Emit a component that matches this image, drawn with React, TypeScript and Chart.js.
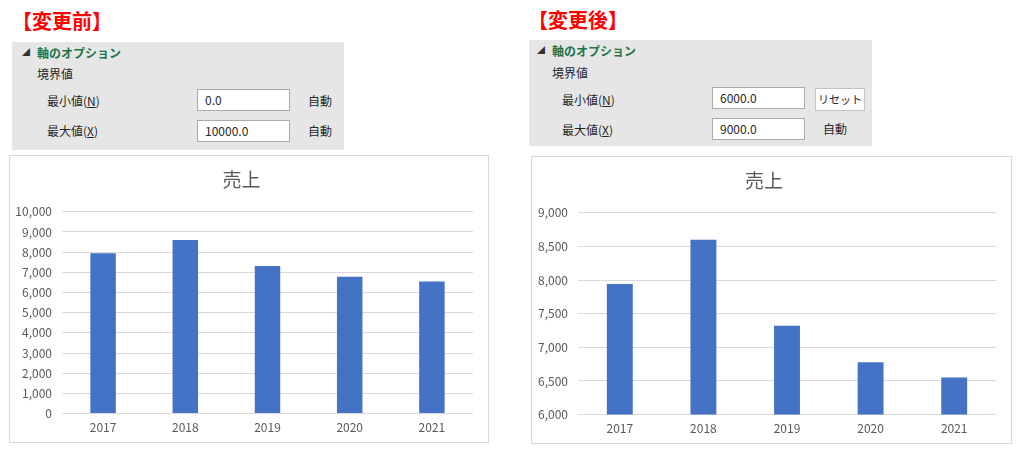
import React, { useEffect, useRef } from 'react';
import Chart from 'chart.js/auto';

const years = ['2017', '2018', '2019', '2020', '2021'];
const sales = [7940, 8600, 7320, 6780, 6550];

const beforeMin = 0;
const beforeMax = 10000;
const beforeStep = 1000;
const afterMin = 6000;
const afterMax = 9000;
const afterStep = 500;

const FONT = '"Noto Sans CJK JP", "Noto Sans", sans-serif';
const TEXT = '#595959';

interface SalesChartProps {
  min: number;
  max: number;
  step: number;
  axisWidth: number;
}

const SalesChart: React.FC<SalesChartProps> = ({ min, max, step, axisWidth }) => {
  const chartRef = useRef<HTMLCanvasElement | null>(null);

  useEffect(() => {
    if (!chartRef.current) return;
    const chart = new Chart(chartRef.current, {
      type: 'bar',
      data: {
        labels: years,
        datasets: [
          {
            label: '売上',
            data: sales,
            backgroundColor: '#4472c4',
            categoryPercentage: 1,
            barPercentage: 0.31,
          },
        ],
      },
      options: {
        animation: false,
        responsive: true,
        maintainAspectRatio: false,
        layout: { padding: { left: 0, right: 15, top: 0, bottom: 0 } },
        plugins: {
          legend: { display: false },
          tooltip: { enabled: false },
          title: {
            display: true,
            text: '売上',
            color: TEXT,
            font: { size: 19, family: FONT, weight: 'normal' },
            padding: { top: 12, bottom: 21 },
          },
        },
        scales: {
          x: {
            grid: { display: false, drawTicks: false },
            border: { display: false },
            ticks: { color: TEXT, font: { size: 12, family: FONT }, padding: 7 },
          },
          y: {
            min,
            max,
            grid: { color: '#d9d9d9', drawTicks: false },
            border: { display: false },
            ticks: {
              stepSize: step,
              color: TEXT,
              font: { size: 12, family: FONT },
              padding: 10,
              callback: (v: any) => Number(v).toLocaleString('en-US'),
            },
            afterFit: (scale: any) => {
              scale.width = axisWidth;
            },
          },
        },
      } as any,
    });
    return () => chart.destroy();
  }, [min, max, step, axisWidth]);

  return <canvas ref={chartRef} />;
};

const abs = (left: number, top: number, extra: React.CSSProperties = {}): React.CSSProperties => ({
  position: 'absolute',
  left,
  top,
  ...extra,
});

const label = (text: string, left: number, top: number, extra: React.CSSProperties = {}) => (
  <div style={abs(left, top, { fontSize: 12, color: '#262626', whiteSpace: 'nowrap', lineHeight: '16px', ...extra })}>
    {text}
  </div>
);

const Keyed: React.FC<{ base: string; k: string; left: number; top: number }> = ({ base, k, left, top }) => (
  <div style={abs(left, top, { fontSize: 12, color: '#262626', whiteSpace: 'nowrap', lineHeight: '16px' })}>
    {base}(<span style={{ textDecoration: 'underline' }}>{k}</span>)
  </div>
);

const Input: React.FC<{ value: string; left: number; top: number }> = ({ value, left, top }) => (
  <div
    style={abs(left, top, {
      width: 93,
      height: 22,
      boxSizing: 'border-box',
      background: '#fff',
      border: '1px solid #ababab',
      fontSize: 12,
      lineHeight: '19px',
      paddingLeft: 7,
      color: '#262626',
    })}
  >
    {value}
  </div>
);

const App: React.FC = () => {
  return (
    <div
      style={{
        position: 'fixed',
        left: 0,
        top: 0,
        width: 1031,
        height: 461,
        background: '#fff',
        fontFamily: FONT,
        overflow: 'hidden',
      }}
    >
      {/* before */}
      <div style={abs(12, 7, { fontSize: 20, fontWeight: 'bold', color: '#ff0000', lineHeight: '28px' })}>【変更前】</div>
      <div style={abs(12, 42, { width: 332, height: 108, background: '#e6e6e6' })} />
      <div style={abs(22, 46, { fontSize: 8, color: '#333' })}>◢</div>
      {label('軸のオプション', 37, 45, { color: '#217346', fontWeight: 'bold' })}
      {label('境界値', 37, 66)}
      <Keyed base="最小値" k="N" left={47} top={93} />
      <Input value="0.0" left={197} top={89} />
      {label('自動', 308, 93)}
      <Keyed base="最大値" k="X" left={47} top={123} />
      <Input value="10000.0" left={197} top={120} />
      {label('自動', 308, 123)}
      <div
        style={abs(9, 155, {
          width: 480,
          height: 288,
          boxSizing: 'border-box',
          border: '1px solid #d9d9d9',
        })}
      >
        <div style={{ position: 'relative', width: 478, height: 286 }}>
          <SalesChart min={beforeMin} max={beforeMax} step={beforeStep} axisWidth={52} />
        </div>
      </div>

      {/* after */}
      <div style={abs(528, 6, { fontSize: 20, fontWeight: 'bold', color: '#ff0000', lineHeight: '28px' })}>【変更後】</div>
      <div style={abs(529, 40, { width: 343, height: 106, background: '#e6e6e6' })} />
      <div style={abs(537, 44, { fontSize: 8, color: '#333' })}>◢</div>
      {label('軸のオプション', 552, 43, { color: '#217346', fontWeight: 'bold' })}
      {label('境界値', 552, 65)}
      <Keyed base="最小値" k="N" left={562} top={92} />
      <Input value="6000.0" left={712} top={87} />
      <div
        style={abs(815, 88, {
          width: 50,
          height: 23,
          boxSizing: 'border-box',
          background: '#fdfdfd',
          border: '1px solid #c4c4c4',
          fontSize: 11,
          lineHeight: '21px',
          textAlign: 'center',
          color: '#262626',
        })}
      >
        リセット
      </div>
      <Keyed base="最大値" k="X" left={562} top={122} />
      <Input value="9000.0" left={712} top={118} />
      {label('自動', 823, 121)}
      <div
        style={abs(531, 156, {
          width: 481,
          height: 288,
          boxSizing: 'border-box',
          border: '1px solid #d9d9d9',
        })}
      >
        <div style={{ position: 'relative', width: 479, height: 286 }}>
          <SalesChart min={afterMin} max={afterMax} step={afterStep} axisWidth={46} />
        </div>
      </div>
    </div>
  );
};

export default App;
